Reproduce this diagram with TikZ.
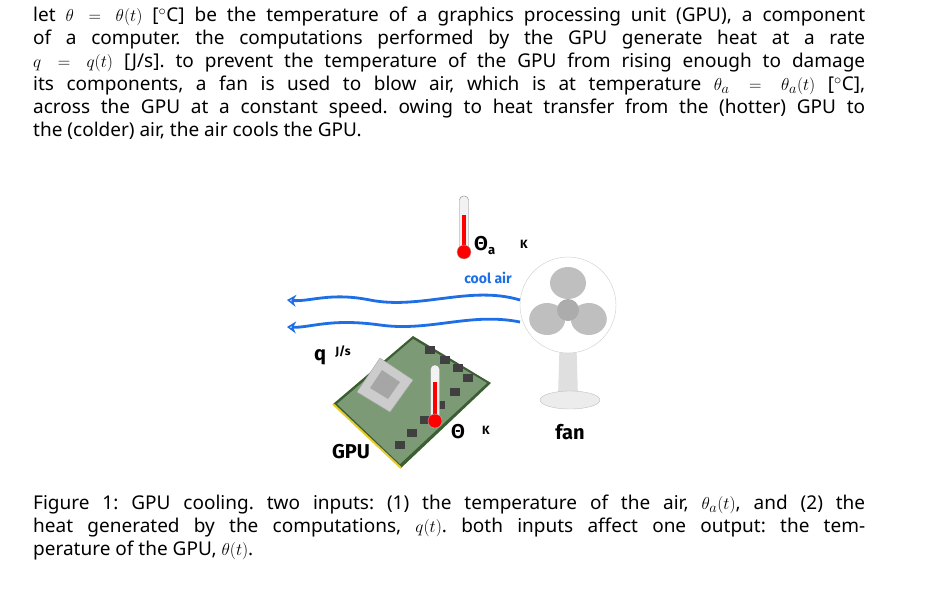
\documentclass[tikz,border=0pt]{standalone}
\usepackage{fontspec}
\setmainfont{Noto Sans}
\newfontfamily\hand{Fira Sans}
\usetikzlibrary{arrows.meta,decorations.pathmorphing}
\definecolor{airblue}{RGB}{30,110,230}
\definecolor{pcb}{RGB}{70,110,60}
\frenchspacing
\begin{document}
\begin{tikzpicture}[x=1pt,y=-1pt,
  para/.style={anchor=north west,text width=832pt,align=justify,inner sep=0pt,font=\fontsize{19.0}{23}\selectfont},
  hw/.style={font=\hand\bfseries\fontsize{20}{20}\selectfont,inner sep=0pt},
  hws/.style={font=\hand\bfseries\fontsize{12}{12}\selectfont,inner sep=0pt},
  air/.style={airblue,line width=2.8pt,-{Stealth[length=9pt,width=12pt,open]}}]
\useasboundingbox (0,0) rectangle (927,592);
\node[para] (intro) at (33,7) {let $\theta=\theta(t)$ [$^\circ$C] be the temperature of a graphics processing unit (GPU), a component\linebreak of a computer. the computations performed by the GPU generate heat at a rate\linebreak $q=q(t)$ [J/s]. to prevent the temperature of the GPU from rising enough to damage\linebreak its components, a fan is used to blow air, which is at temperature $\theta_a=\theta_a(t)$ [$^\circ$C],\linebreak across the GPU at a constant speed. owing to heat transfer from the (hotter) GPU to\linebreak the (colder) air, the air cools the GPU.};
\node[para] (caption) at (33,495) {Figure 1: GPU cooling. two inputs: (1) the temperature of the air, $\theta_a(t)$, and (2) the\linebreak heat generated by the computations, $q(t)$. both inputs affect one output: the tem-\linebreak perature of the GPU, $\theta(t)$.};
% GPU board
\fill[pcb!85!black] (413,336) -- (491,383) -- (401,468) -- (333,404) -- cycle;
\fill[pcb!70] (413,339) -- (487,383) -- (400,464) -- (337,404) -- cycle;
\fill[gray!40,draw=gray!70] (380,358) -- (413,380) -- (390,412) -- (357,392) -- cycle;
\fill[gray!70] (382,370) -- (400,382) -- (388,399) -- (370,388) -- cycle;
\foreach \p in {(430,350),(445,360),(458,368),(468,378),(455,392),(440,405),(425,420),(412,433),(400,445)}
  \fill[black!75] \p ++(-5,-4) rectangle ++(10,8);
\draw[yellow!60!brown,line width=2pt] (333,404) -- (401,468);
% thermometers
\node[draw=gray,fill=gray!10,rounded corners=4pt,minimum width=9pt,minimum height=58pt,inner sep=0pt] (t1) at (464,225) {};
\fill[red] (462,215) rectangle (466,250);
\node[circle,fill=red,draw=gray!60,minimum size=14pt,inner sep=0pt] (b1) at (464,252) {};
\node[draw=gray,fill=gray!10,rounded corners=4pt,minimum width=9pt,minimum height=58pt,inner sep=0pt] (t2) at (435,394) {};
\fill[red] (433,382) rectangle (437,418);
\node[circle,fill=red,draw=gray!60,minimum size=14pt,inner sep=0pt] (b2) at (435,421) {};
% labels
\node[hw,anchor=west] (ta) at (474,246) {Θ\raisebox{-4pt}{\fontsize{13}{13}\selectfont a}};
\node[hws] (k1) at (524,244) {K};
\node[hws,airblue,font=\hand\bfseries\fontsize{14}{14}\selectfont] (cool) at (488,278) {cool air};
\node[hw] (th) at (458,432) {Θ};
\node[hws] (k2) at (486,430) {K};
\node[hw] (q) at (320,357) {q};
\node[hws] (js) at (343,352) {J/s};
\node[hw] (gpu) at (351,452) {GPU};
\node[hw] (fan) at (570,432) {fan};
% fan
\fill[gray!25] (560,330) -- (576,330) -- (578,398) -- (558,398) -- cycle;
\fill[gray!15,draw=gray!50] (570,400) ellipse (30pt and 9pt);
\node[circle,draw=gray!40,fill=white,minimum size=96pt,inner sep=0pt] (fanhead) at (568,305) {};
\foreach \a in {90,210,330}
  \fill[gray!50] (568,307) ++(-\a:24) ellipse (18pt and 16pt);
\node[circle,fill=gray!65,minimum size=22pt,inner sep=0pt] (hub) at (568,310) {};
% air
\coordinate (a1e) at (287,300);
\coordinate (a2e) at (287,327);
\draw[air] (520,300) .. controls (470,285) and (420,310) .. (370,300) .. controls (330,292) and (310,302) .. (a1e);
\draw[air] (520,322) .. controls (470,312) and (430,332) .. (380,325) .. controls (330,318) and (310,328) .. (a2e);
\end{tikzpicture}
\end{document}
